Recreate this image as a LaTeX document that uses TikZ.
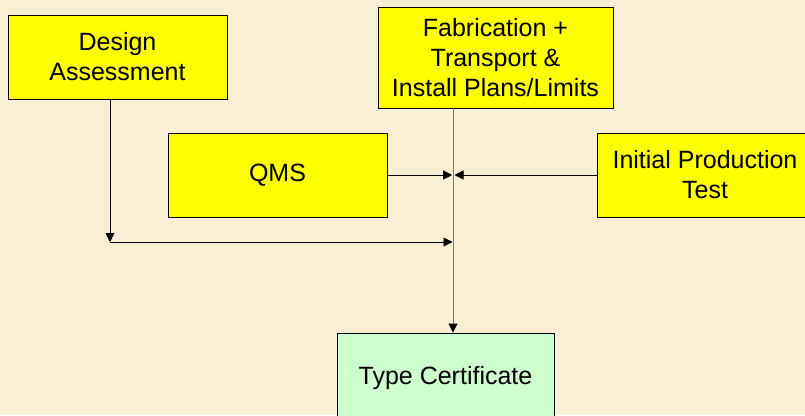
\documentclass[tikz,border=0pt]{standalone}
\usepackage{fontspec}
\setmainfont{Liberation Sans}
\usetikzlibrary{arrows.meta}
\definecolor{parchment}{HTML}{F9EFD4}
\definecolor{boxyellow}{HTML}{FFFF00}
\definecolor{certgreen}{HTML}{CCFFCC}
\definecolor{trunkgray}{HTML}{7A7A7A}
\tikzset{
  stagebox/.style={draw=black, line width=0.9pt, fill=boxyellow, align=center,
    font=\fontsize{25}{30}\selectfont, inner sep=0pt},
  certbox/.style={stagebox, fill=certgreen},
  flow/.style={line width=0.9pt, -{Triangle[length=9pt,width=9pt,color=black]}},
}
\begin{document}
\begin{tikzpicture}[x=1pt,y=-1pt]
  % page frame and background
  \fill[parchment] (0,0) rectangle (805,415);
  \useasboundingbox (0,0) rectangle (805,415);
  \clip (0,0) rectangle (805,415);

  % stages
  \node[stagebox, minimum width=219pt, minimum height=84pt] (design) at (117.5,57) {Design\\Assessment};
  \node[stagebox, minimum width=235pt, minimum height=101pt] (fab) at (495.5,57.5) {Fabrication +\\Transport \&\\Install Plans/Limits};
  \node[stagebox, minimum width=219pt, minimum height=84pt] (qms) at (277.5,175) {QMS};
  \node[stagebox, minimum width=216pt, minimum height=84pt] (ipt) at (705,175) {Initial Production\\Test};
  \node[certbox, minimum width=217pt, minimum height=90pt] (tc) at (445.5,378) {Type Certificate};

  % routing points
  \coordinate (trunk) at (453,242);
  \coordinate (dturn) at (110,242);

  % connectors
  \draw[flow] (design.south -| dturn) -- (dturn);
  \draw[flow] (dturn) -- ([xshift=-0.5pt]trunk);
  \draw[flow] (qms.east) -- ([xshift=-0.8pt]qms.east -| trunk);
  \draw[flow] (ipt.west) -- ([xshift=1.5pt]ipt.west -| trunk);
  \draw[flow, draw=trunkgray] (fab.south -| trunk) -- (tc.north -| trunk);
\end{tikzpicture}
\end{document}
